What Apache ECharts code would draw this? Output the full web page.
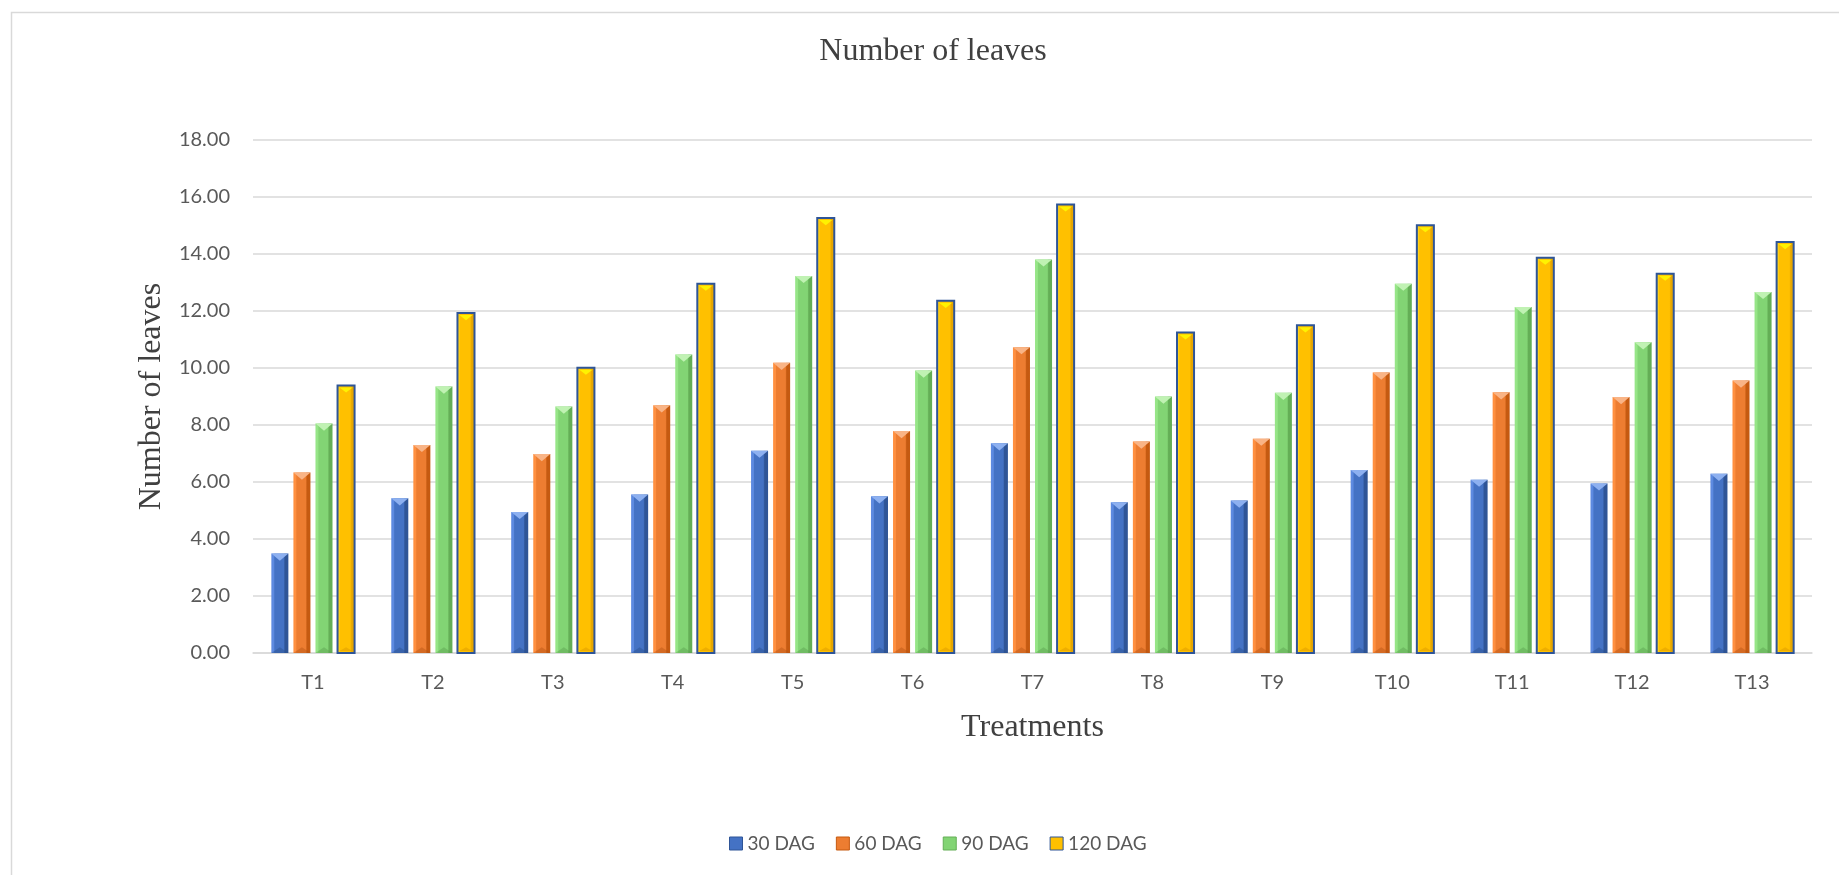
<!DOCTYPE html>
<html>
<head>
<meta charset="utf-8">
<title>Number of leaves</title>
<script src="https://cdn.jsdelivr.net/npm/echarts@6/dist/echarts.min.js"></script>
<style>
  html, body { margin: 0; padding: 0; background: #ffffff; }
  #chart { width: 1839px; height: 875px; }
</style>
</head>
<body>
<div id="chart"></div>
<script>
// Treatments on the x axis
const categories = ['T1', 'T2', 'T3', 'T4', 'T5', 'T6', 'T7', 'T8', 'T9', 'T10', 'T11', 'T12', 'T13'];

// Number of leaves per treatment at each sampling date
const dag30  = [3.49, 5.43, 4.95, 5.56, 7.10, 5.50, 7.36, 5.29, 5.35, 6.42, 6.08, 5.95, 6.29];
const dag60  = [6.33, 7.30, 6.98, 8.69, 10.18, 7.79, 10.73, 7.42, 7.52, 9.84, 9.15, 8.98, 9.56];
const dag90  = [8.05, 9.35, 8.65, 10.47, 13.23, 9.91, 13.81, 9.00, 9.13, 12.96, 12.14, 10.90, 12.67];
const dag120 = [9.39, 11.93, 10.01, 12.96, 15.26, 12.36, 15.74, 11.25, 11.50, 15.01, 13.87, 13.31, 14.42];

const seriesNames = ['30 DAG', '60 DAG', '90 DAG', '120 DAG'];
const seriesValues = [dag30, dag60, dag90, dag120];

// y axis range
const yMin = 0, yMax = 18, yStep = 2;

// bevelled column palettes
const palettes = [
  { main: '#4472C4', light: '#5D8AE0', dark: '#2F5597', top: '#8DB0F0', bottom: '#2B4F8C', stroke: null, lw: 0 },
  { main: '#ED7D31', light: '#FF9040', dark: '#C55A11', top: '#F9B486', bottom: '#B65513', stroke: null, lw: 0 },
  { main: '#82D474', light: '#96E587', dark: '#64AE56', top: '#C0F2B3', bottom: '#5C9F4F', stroke: null, lw: 0 },
  { main: '#FFC000', light: '#FFD21A', dark: '#E6A600', top: '#FFF200', bottom: '#D99A00', stroke: '#2F5597', lw: 2 }
];

function columnRenderer(idx, pal) {
  return function (params, api) {
    const cat = api.value(0);
    const val = api.value(1);
    const top = api.coord([cat, val]);
    const base = api.coord([cat, 0]);
    const band = api.size([1, 0])[0];
    const bw = band * 0.142;
    const step = band * 0.184;
    const cx = top[0] + (idx - 1.5) * step;
    const x0 = cx - bw / 2;
    const h = base[1] - top[1];
    const tri = Math.min(bw * 0.42, h / 2);
    const fill = new echarts.graphic.LinearGradient(0, 0, 1, 0, [
      { offset: 0, color: pal.light },
      { offset: 0.14, color: pal.light },
      { offset: 0.2, color: pal.main },
      { offset: 0.72, color: pal.main },
      { offset: 0.8, color: pal.dark },
      { offset: 1, color: pal.dark }
    ]);
    const children = [
      {
        type: 'rect',
        shape: { x: x0, y: top[1], width: bw, height: h },
        style: { fill: fill, stroke: pal.stroke, lineWidth: pal.lw }
      },
      {
        type: 'polygon',
        shape: { points: [[x0 + pal.lw, top[1] + pal.lw], [x0 + bw - pal.lw, top[1] + pal.lw], [cx, top[1] + tri]] },
        style: { fill: pal.top }
      },
      {
        type: 'polygon',
        shape: { points: [[x0 + pal.lw, base[1] - pal.lw], [x0 + bw - pal.lw, base[1] - pal.lw], [cx, base[1] - tri * 0.8]] },
        style: { fill: pal.bottom, opacity: 0.45 }
      }
    ];
    return { type: 'group', children: children };
  };
}

const chart = echarts.init(document.getElementById('chart'), null, { renderer: 'canvas' });

const series = seriesNames.map(function (name, i) {
  return {
    name: name,
    type: 'custom',
    renderItem: columnRenderer(i, palettes[i]),
    itemStyle: { color: palettes[i].main },
    encode: { x: 0, y: 1 },
    data: seriesValues[i].map(function (v, k) { return [k, v]; }),
    z: 3
  };
});

const option = {
  backgroundColor: '#ffffff',
  animation: false,
  title: {
    text: 'Number of leaves',
    left: 928,
    top: 31,
    textAlign: 'center',
    textStyle: { fontFamily: 'Liberation Serif', fontSize: 32, fontWeight: 'normal', color: '#404040' }
  },
  graphic: [
    {
      type: 'rect',
      left: 9, top: 10,
      shape: { width: 1900, height: 1000 },
      style: { fill: 'none', stroke: '#D9D9D9', lineWidth: 1.5 },
      silent: true, z: -1
    }
  ],
  legend: {
    left: 724,
    top: 829,
    itemWidth: 13,
    itemHeight: 13,
    itemGap: 21,
    textStyle: { fontFamily: 'Lato', fontSize: 19, color: '#595959' },
    data: seriesNames.map(function (name, i) {
      return {
        name: name,
        icon: 'rect',
        itemStyle: { color: palettes[i].main, borderColor: palettes[i].stroke || palettes[i].dark, borderWidth: 1 }
      };
    })
  },
  grid: { left: 253, right: 27, top: 140, bottom: 222, containLabel: false },
  xAxis: {
    type: 'category',
    data: categories,
    name: 'Treatments',
    nameLocation: 'middle',
    nameGap: 59,
    nameTextStyle: { fontFamily: 'Liberation Serif', fontSize: 32, color: '#404040' },
    axisLine: { lineStyle: { color: '#D9D9D9', width: 1.5 } },
    axisTick: { show: false },
    axisLabel: { margin: 20, fontFamily: 'Lato', fontSize: 20, color: '#595959' },
    splitLine: { show: false }
  },
  yAxis: {
    type: 'value',
    min: yMin,
    max: yMax,
    interval: yStep,
    name: 'Number of leaves',
    nameLocation: 'middle',
    nameRotate: 90,
    nameGap: 84,
    nameTextStyle: { fontFamily: 'Liberation Serif', fontSize: 32, color: '#404040' },
    axisLine: { show: false },
    axisTick: { show: false },
    axisLabel: {
      margin: 23,
      fontFamily: 'Lato',
      fontSize: 20,
      color: '#595959',
      formatter: function (v) { return v.toFixed(2); }
    },
    splitLine: { lineStyle: { color: '#D9D9D9', width: 1.5 } }
  },
  series: series
};

chart.setOption(option);
</script>
</body>
</html>
